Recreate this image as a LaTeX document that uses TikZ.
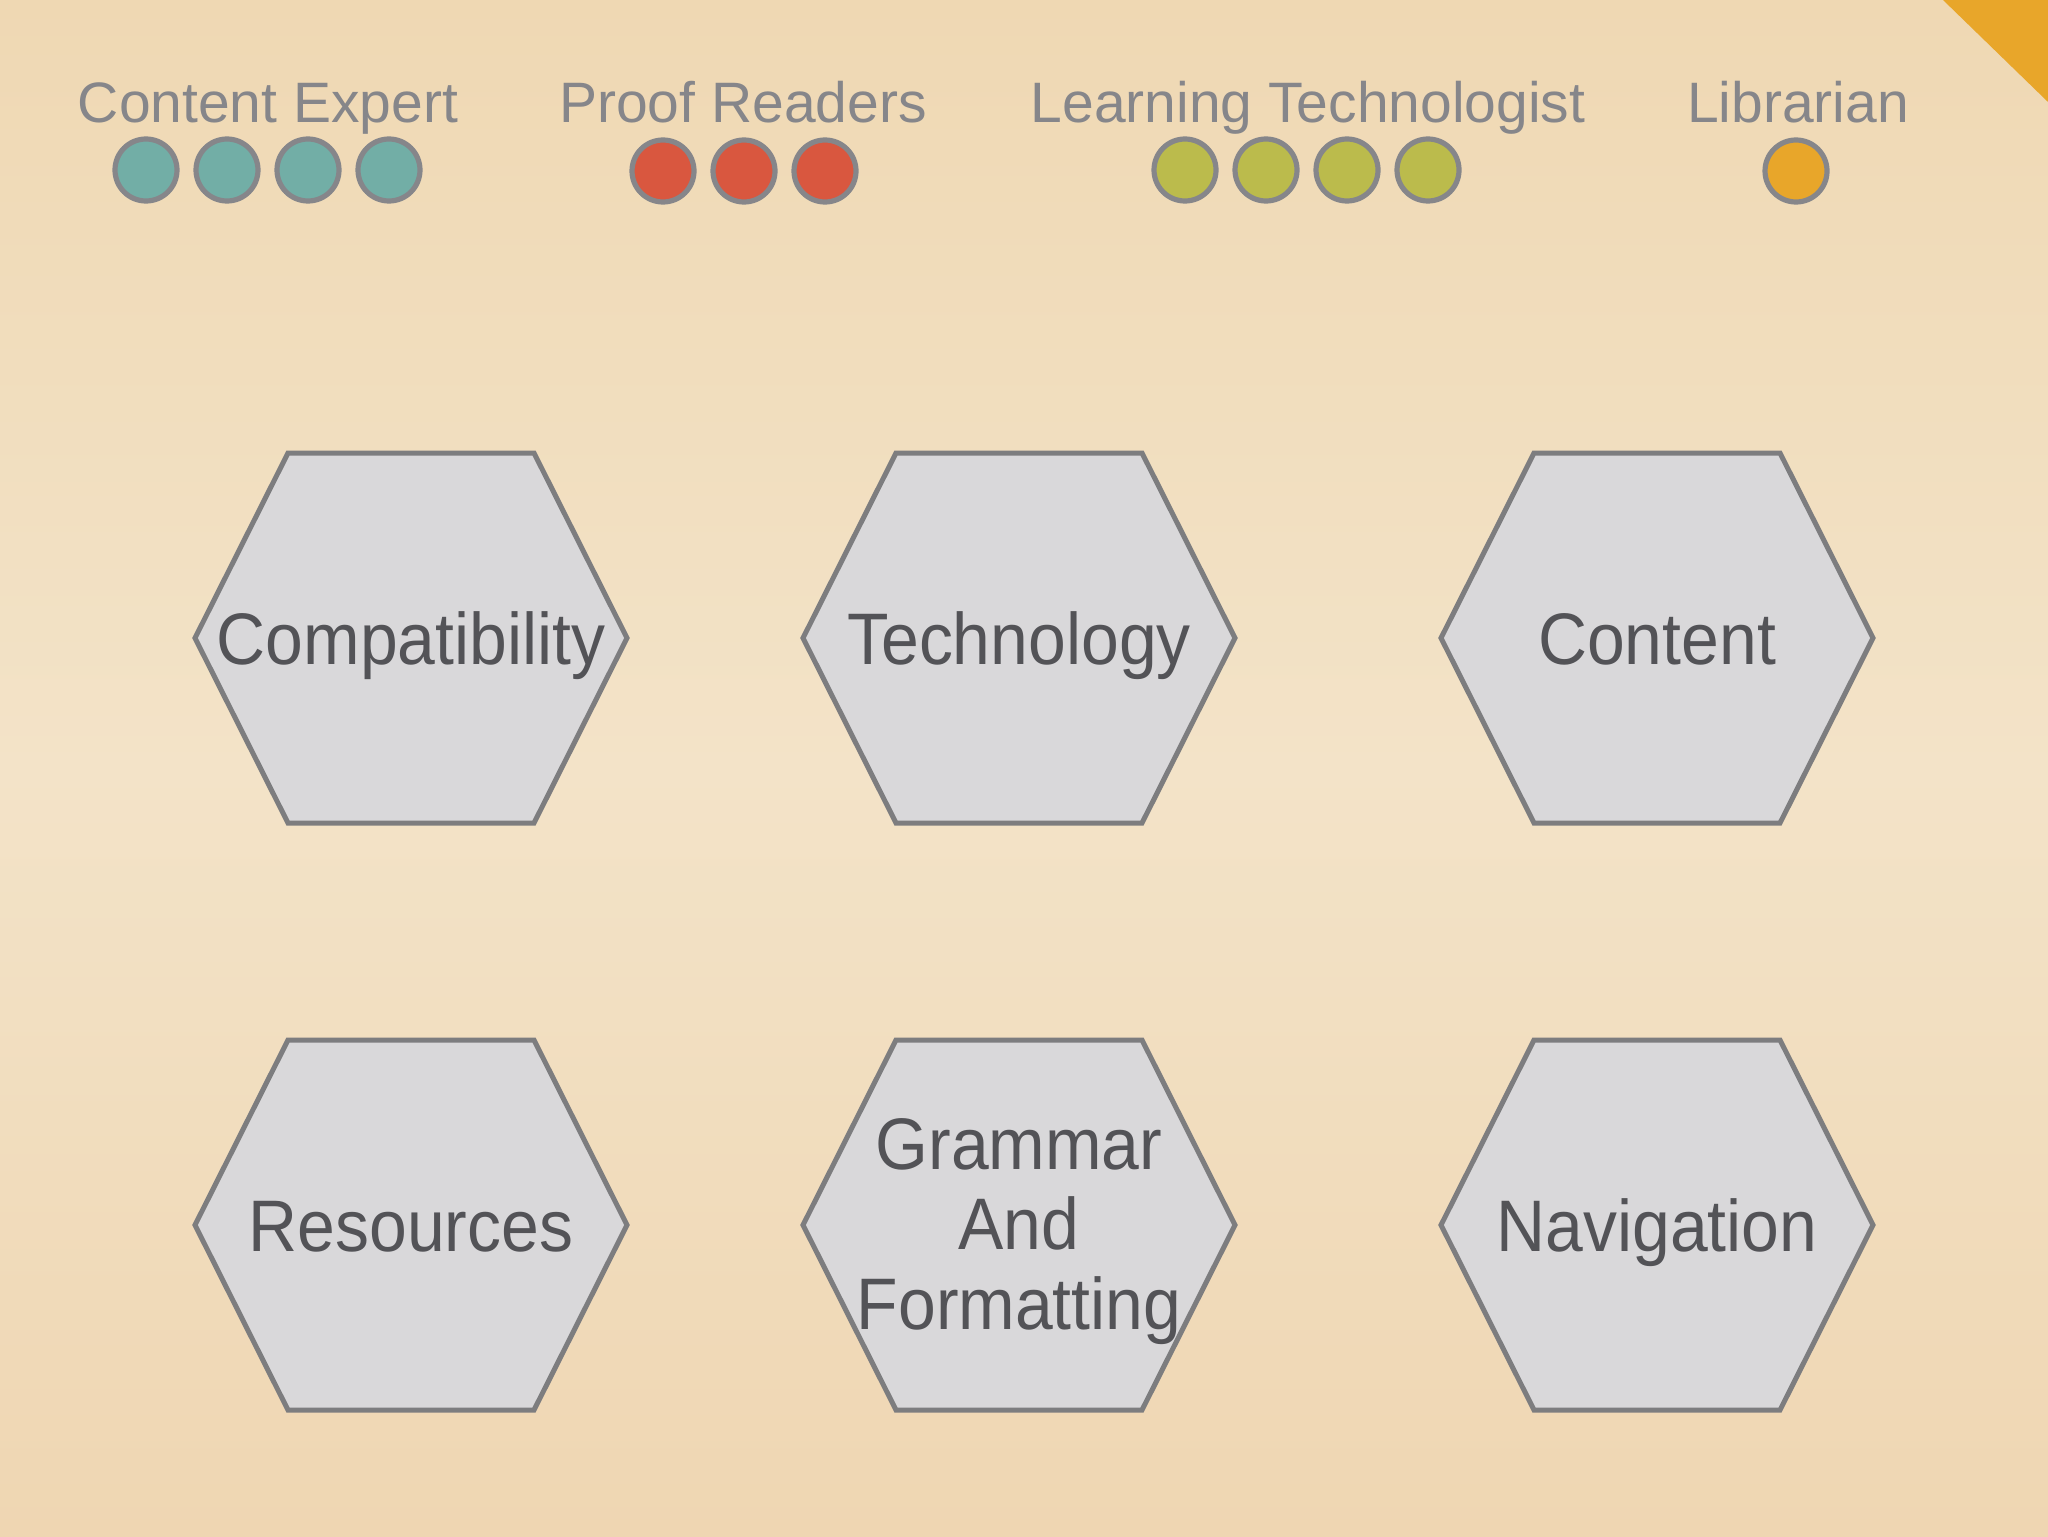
\documentclass[tikz,border=0pt]{standalone}
\usepackage{fontspec}
\setmainfont{Liberation Sans}
\newfontfamily\hexfont[FakeStretch=0.93]{Liberation Sans}
\usetikzlibrary{calc}
\definecolor{bgtop}{HTML}{EFD8B3}
\definecolor{bgmid}{HTML}{F3E3C8}
\definecolor{bgbot}{HTML}{EFD6B2}
\definecolor{legtext}{HTML}{86868A}
\definecolor{hextext}{HTML}{535357}
\definecolor{hexfill}{HTML}{D9D8DA}
\definecolor{hexline}{HTML}{7D7D7F}
\definecolor{cteal}{HTML}{72AEA6}
\definecolor{cred}{HTML}{D9573F}
\definecolor{colive}{HTML}{BBBB4C}
\definecolor{corange}{HTML}{E8A62A}
\definecolor{dotline}{HTML}{86868A}
\tikzset{
  legend/.style={text=legtext, font=\fontsize{28.5}{32}\selectfont, anchor=base, inner sep=0pt},
  dot/.style={circle, draw=dotline, line width=2.6pt, minimum size=31pt, inner sep=0pt},
  hexshape/.style={fill=hexfill, draw=hexline, line width=2.5pt, line join=miter},
  hexlabel/.style={text=hextext, font=\hexfont\fontsize{36.5}{40}\selectfont, align=center, inner sep=0pt},
}
\begin{document}
\begin{tikzpicture}[x=0.5pt, y=-0.5pt]
\useasboundingbox (0,0) rectangle (2048,1536);
\shade[top color=bgtop, bottom color=bgmid] (0,0) rectangle (2048,770);
\shade[top color=bgmid, bottom color=bgbot] (0,770) rectangle (2048,1536);
\fill[corange] (1943,0) -- (2048,0) -- (2048,102) -- cycle;

% legend
\node[legend] (lce) at (268,122) {Content Expert};
\node[legend] (lpr) at (743,122) {Proof Readers};
\node[legend] (llt) at (1308,122) {Learning Technologist};
\node[legend] (llb) at (1798,122) {Librarian};

\node[dot, fill=cteal] (ce1) at (146,170) {};
\node[dot, fill=cteal] (ce2) at (227,170) {};
\node[dot, fill=cteal] (ce3) at (308,170) {};
\node[dot, fill=cteal] (ce4) at (389,170) {};

\node[dot, fill=cred] (pr1) at (663,171) {};
\node[dot, fill=cred] (pr2) at (744,171) {};
\node[dot, fill=cred] (pr3) at (825,171) {};

\node[dot, fill=colive] (lt1) at (1185,170) {};
\node[dot, fill=colive] (lt2) at (1266,170) {};
\node[dot, fill=colive] (lt3) at (1347,170) {};
\node[dot, fill=colive] (lt4) at (1428,170) {};

\node[dot, fill=corange] (lb1) at (1796,171) {};

% hexagons
\foreach \x/\y in {411/638, 1019/638, 1657/638, 411/1225, 1019/1225, 1657/1225}{
  \draw[hexshape] (\x-216,\y) -- (\x-123,\y-185) -- (\x+123,\y-185) -- (\x+216,\y)
     -- (\x+123,\y+185) -- (\x-123,\y+185) -- cycle;
}
\node[hexlabel, anchor=base] (hcomp) at (411,664) {Compatibility};
\node[hexlabel, anchor=base] (htech) at (1019,664) {Technology};
\node[hexlabel, anchor=base] (hcont) at (1657,664) {Content};
\node[hexlabel, anchor=base] (hres) at (411,1251) {Resources};
\node[hexlabel] (hgram) at (1019,1232) {Grammar\\And\\Formatting};
\node[hexlabel, anchor=base] (hnav) at (1657,1251) {Navigation};
\end{tikzpicture}
\end{document}
